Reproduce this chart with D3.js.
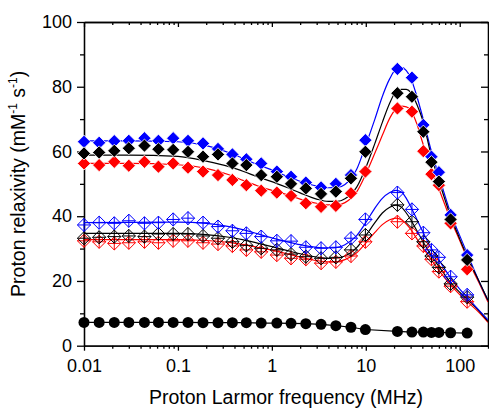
<!DOCTYPE html>
<html>
<head>
<meta charset="utf-8">
<script src="https://cdn.jsdelivr.net/npm/d3@7"></script>
<style>
  body { margin: 0; background: #fff; }
  text { font-family: "Liberation Sans", Arial, sans-serif; }
</style>
</head>
<body>
<div id="chart"></div>
<script>
// measured frequencies (MHz)
var freqLow = [0.01, 0.0145, 0.021, 0.03, 0.044, 0.062, 0.089, 0.128, 0.185, 0.267,
               0.38, 0.535, 0.77, 1.13, 1.6, 2.3, 3.34, 4.8, 6.95, 9.9];
var freqHigh = [21.7, 31, 41, 50, 60, 80, 120];

// filled diamonds
var blueFilled = [63.0, 62.7, 63.2, 63.3, 64.1, 63.3, 64.1, 63.3, 62.5, 60.8,
                  59.1, 57.6, 56.3, 53.8, 52.2, 50.4, 48.9, 50.0, 52.7, 63.5,
                  85.5, 82.8, 68.2, 58.4, 53.6, 40.4, 28.0];
var blackFilled = [59.4, 59.7, 60.2, 61.0, 61.8, 60.7, 60.5, 59.9, 58.4, 59.1,
                   56.3, 55.8, 52.7, 52.2, 50.0, 48.6, 46.9, 47.6, 51.7, 59.9,
                   78.0, 76.9, 66.1, 56.7, 50.7, 39.0, 26.5];
var redFilled = [56.3, 55.8, 56.8, 55.6, 56.8, 55.3, 56.3, 55.0, 53.8, 52.7,
                 51.2, 49.6, 47.9, 47.3, 46.3, 44.0, 42.9, 43.2, 47.1, 53.8,
                 73.3, 72.3, 60.1, 53.0, 49.6, 37.8, 23.6];

// open diamonds with cross
var blueOpen = [37.3, 38.0, 37.8, 38.6, 37.8, 38.0, 39.0, 39.4, 38.0, 36.8,
                35.5, 34.7, 33.7, 32.4, 32.3, 30.4, 30.1, 30.4, 33.2, 39.0,
                47.3, 42.1, 34.9, 29.6, 27.3, 21.3, 15.7];
var blackOpen = [33.2, 33.5, 33.7, 33.9, 33.7, 34.5, 34.5, 34.5, 33.9, 33.2,
                 32.1, 31.0, 30.1, 29.6, 28.3, 27.5, 27.0, 27.3, 29.6, 34.2,
                 43.5, 38.3, 32.1, 27.7, 24.2, 19.1, 15.0];
var redOpen = [32.4, 32.1, 31.6, 31.8, 32.1, 31.8, 32.4, 32.4, 31.8, 31.4,
               30.8, 29.6, 29.0, 28.0, 27.0, 26.7, 25.5, 25.9, 27.7, 32.1,
               38.3, 34.7, 30.8, 26.7, 22.9, 18.4, 13.6];

// filled circles
var circles = [7.2, 7.2, 7.2, 7.2, 7.2, 7.2, 7.2, 7.2, 7.1, 7.1,
               7.1, 7.1, 7.0, 7.0, 6.9, 6.8, 6.6, 6.2, 5.7, 5.0,
               4.4, 4.2, 4.2, 4.1, 4.1, 4.0, 3.9];

// fitted curves
var fitFreq = [0.01, 0.03, 0.1, 0.2, 0.35, 0.5, 0.7, 1, 1.5, 2, 3, 4, 5, 6, 8, 10,
               12.5, 15, 18, 21, 24, 27, 30, 35, 40, 50, 60, 80, 100, 120, 160, 200];
var blueFilledFit = [63.3, 63.3, 63.0, 61.8, 59.6, 57.8, 56.0, 54.3, 52.2, 50.8, 49.3, 48.8, 48.9, 49.8, 54.5, 62,
                     70, 77, 82.5, 85.5, 86, 85, 82.8, 77, 71, 60, 52.5, 41, 34, 28.5, 20, 14];
var blackFilledFit = [58.9, 58.9, 58.5, 57.0, 55.3, 53.8, 52.2, 50.7, 48.7, 47.2, 45.3, 44.6, 44.6, 45.4, 49, 55,
                      62.5, 69, 75, 78.5, 79.2, 79.2, 78.3, 74.5, 70, 58.5, 51, 40, 33, 27.5, 20, 14];
var redFilledFit = [56.3, 56.3, 55.9, 54.8, 52.8, 51.0, 49.4, 48.0, 46.5, 45.3, 44.0, 43.5, 43.5, 44.2, 47.5, 53,
                    59.5, 65, 70.3, 73.2, 74, 73.8, 72.8, 68.5, 63, 54.5, 48.5, 39, 32.5, 27, 19.5, 13.5];
var blueOpenFit = [38.0, 38.1, 38.2, 37.8, 36.8, 35.8, 34.6, 33.3, 32.0, 31.2, 30.4, 30.2, 30.4, 31.2, 34, 38,
                   42.5, 45.5, 47.3, 48, 47.5, 45.5, 43, 39, 35.5, 30, 26.5, 21, 17.5, 15, 11, 8];
var blackOpenFit = [34.7, 34.7, 34.7, 34.3, 33.5, 32.7, 31.7, 30.6, 29.3, 28.4, 27.4, 27.0, 27.1, 27.7, 30.3, 34,
                    38, 41, 42.8, 43.4, 42.8, 41, 39, 35.5, 32.5, 27.8, 24.5, 19.5, 16.5, 14.3, 10.8, 7.5];
var redOpenFit = [32.8, 32.8, 32.8, 32.5, 31.9, 31.2, 30.4, 29.5, 28.3, 27.4, 26.3, 25.9, 26.0, 26.6, 28.7, 31.7,
                  35, 37.4, 38.9, 39.4, 38.9, 37.6, 36, 33, 30.5, 26.5, 23.3, 18.8, 15.8, 13.6, 10.3, 7.2];

var xMajor = [0.01, 0.1, 1, 10, 100];
var yMajor = [0, 20, 40, 60, 80, 100];
var yMinor = [10, 30, 50, 70, 90];

var width = 489, height = 408;
var mLeft = 84, mRight = 488, mTop = 22, mBottom = 345.7;

var freqAll = freqLow.concat(freqHigh);

var x = d3.scaleLog().domain([0.01, 200]).range([mLeft, mRight]);
var y = d3.scaleLinear().domain([0, 100]).range([mBottom, mTop]);

// minor ticks 2..9 per decade
var xMinor = [];
xMajor.forEach(function (d) {
    for (var k = 2; k <= 9; k++) {
        if (d * k <= 200) xMinor.push(d * k);
    }
});

var svg = d3.select("#chart").append("svg")
    .attr("width", width)
    .attr("height", height);

svg.append("defs").append("clipPath").attr("id", "plot")
    .append("rect").attr("x", mLeft).attr("y", mTop)
    .attr("width", mRight - mLeft).attr("height", mBottom - mTop);

// axes
function styleAxis(g) {
    g.selectAll("path, line").attr("stroke", "#000").attr("stroke-width", 1.3);
    g.selectAll("text").attr("font-size", 18).attr("fill", "#000")
        .attr("font-family", "'Liberation Sans', Arial, sans-serif");
}

svg.append("g").attr("transform", "translate(0," + mBottom + ")")
    .call(d3.axisBottom(x).tickValues(xMinor).tickSize(3).tickFormat("").tickSizeOuter(0))
    .call(styleAxis);
svg.append("g").attr("transform", "translate(0," + mBottom + ")")
    .call(d3.axisBottom(x).tickValues(xMajor).tickSize(5).tickPadding(9)
        .tickFormat(d3.format("~g")).tickSizeOuter(0))
    .call(styleAxis);

svg.append("g").attr("transform", "translate(0," + mTop + ")")
    .call(d3.axisTop(x).tickValues(xMinor).tickSize(-3).tickFormat("").tickSizeOuter(0))
    .call(styleAxis);
svg.append("g").attr("transform", "translate(0," + mTop + ")")
    .call(d3.axisTop(x).tickValues(xMajor).tickSize(-5).tickFormat("").tickSizeOuter(0))
    .call(styleAxis);

svg.append("g").attr("transform", "translate(" + mLeft + ",0)")
    .call(d3.axisLeft(y).tickValues(yMinor).tickSize(4).tickFormat("").tickSizeOuter(0))
    .call(styleAxis);
svg.append("g").attr("transform", "translate(" + mLeft + ",0)")
    .call(d3.axisLeft(y).tickValues(yMajor).tickSize(7).tickPadding(5).tickSizeOuter(0))
    .call(styleAxis);

svg.append("g").attr("transform", "translate(" + mRight + ",0)")
    .call(d3.axisRight(y).tickValues(yMinor).tickSize(-4).tickFormat("").tickSizeOuter(0))
    .call(styleAxis);
svg.append("g").attr("transform", "translate(" + mRight + ",0)")
    .call(d3.axisRight(y).tickValues(yMajor).tickSize(-7).tickFormat("").tickSizeOuter(0))
    .call(styleAxis);

// axis titles
svg.append("text")
    .attr("x", (mLeft + mRight) / 2).attr("y", 404)
    .attr("text-anchor", "middle").attr("font-size", 19.5)
    .text("Proton Larmor frequency (MHz)");

var yt = svg.append("text")
    .attr("transform", "translate(25," + ((mTop + mBottom) / 2) + ") rotate(-90)")
    .attr("text-anchor", "middle").attr("font-size", 19.5);
yt.append("tspan").text("Proton relaxivity (mM");
yt.append("tspan").attr("font-size", 12).attr("dy", -8).text("-1");
yt.append("tspan").attr("dy", 8).text(" s");
yt.append("tspan").attr("font-size", 12).attr("dy", -8).text("-1");
yt.append("tspan").attr("dy", 8).text(")");

// fitted curves
var line = d3.line()
    .x(function (d) { return x(d[0]); })
    .y(function (d) { return y(d[1]); })
    .curve(d3.curveMonotoneX);

var fits = [
    { v: redOpenFit, c: "#ff0000" },
    { v: blackOpenFit, c: "#000" },
    { v: blueOpenFit, c: "#0000ff" },
    { v: redFilledFit, c: "#ff0000" },
    { v: blueFilledFit, c: "#0000ff" },
    { v: blackFilledFit, c: "#000" }
];

var gLines = svg.append("g").attr("clip-path", "url(#plot)");
fits.forEach(function (f) {
    gLines.append("path")
        .datum(fitFreq.map(function (d, i) { return [d, f.v[i]]; }))
        .attr("d", line)
        .attr("fill", "none")
        .attr("stroke", f.c)
        .attr("stroke-width", 1.2);
});

// circle series line
gLines.append("path")
    .datum(freqAll.map(function (d, i) { return [d, circles[i]]; }))
    .attr("d", d3.line().x(function (d) { return x(d[0]); }).y(function (d) { return y(d[1]); }))
    .attr("fill", "none").attr("stroke", "#000").attr("stroke-width", 1.2);

// markers
var r = 6.6;
var diamond = "M0," + (-r) + "L" + r + ",0L0," + r + "L" + (-r) + ",0Z";
var cross = "M0," + (-r) + "V" + r + "M" + (-r) + ",0H" + r;

function openSeries(vals, color) {
    svg.append("g").selectAll("path")
        .data(freqAll.map(function (d, i) { return [d, vals[i]]; }))
        .enter().append("path")
        .attr("d", diamond + cross)
        .attr("transform", function (d) { return "translate(" + x(d[0]) + "," + y(d[1]) + ")"; })
        .attr("fill", "none").attr("stroke", color).attr("stroke-width", 1);
}

function filledSeries(vals, color) {
    svg.append("g").selectAll("path")
        .data(freqAll.map(function (d, i) { return [d, vals[i]]; }))
        .enter().append("path")
        .attr("d", diamond)
        .attr("transform", function (d) { return "translate(" + x(d[0]) + "," + y(d[1]) + ")"; })
        .attr("fill", color)
        .attr("stroke", "#fff").attr("stroke-width", 0.8);
}

openSeries(redOpen, "#ff0000");
openSeries(blackOpen, "#000");
openSeries(blueOpen, "#0000ff");

filledSeries(redFilled, "#ff0000");
filledSeries(blueFilled, "#0000ff");
filledSeries(blackFilled, "#000");

svg.append("g").selectAll("circle")
    .data(freqAll.map(function (d, i) { return [d, circles[i]]; }))
    .enter().append("circle")
    .attr("cx", function (d) { return x(d[0]); })
    .attr("cy", function (d) { return y(d[1]); })
    .attr("r", 5.5)
    .attr("fill", "#000");
</script>
</body>
</html>
